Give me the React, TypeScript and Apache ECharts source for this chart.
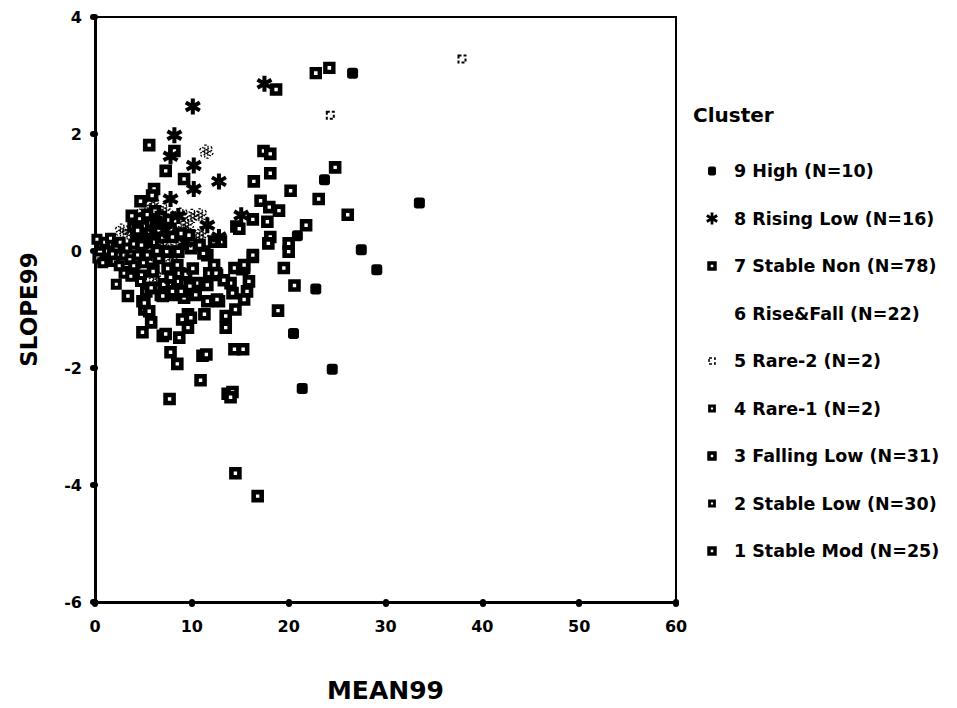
import React, { useEffect, useRef } from "react";
import * as echarts from "echarts";

// ---- data (MEAN99, SLOPE99) ----
const high = [[26.6,3.04],[33.5,0.82],[27.5,0.02],[29.1,-0.32],[23.7,1.22],[20.9,0.26],[22.8,-0.65],[20.5,-1.41],[21.4,-2.35],[24.5,-2.02]];
const risingLow = [[10.1,2.47],[8.2,1.98],[17.5,2.86],[7.8,1.62],[10.2,1.46],[12.8,1.19],[10.2,1.06],[7.8,0.89],[11.6,0.44],[15.1,0.61],[12.8,0.24],[8.6,0.6],[7.2,0.35],[6.5,0.5],[5.8,0.25],[9.3,0.15]];
const stableNon = [[5.6,1.81],[8.2,1.71],[7.3,1.37],[9.2,1.23],[6.1,1.06],[4.7,0.85],[7.5,0.53],[7.8,0.38],[7.0,0.24],[8.0,0.24],[8.9,0.3],[9.7,0.27],[7.4,-0.01],[8.6,-0.01],[9.9,0.05],[11.3,-0.01],[11.6,-0.07],[12.3,-0.24],[12.6,-0.41],[11.6,-0.58],[14.4,-0.29],[14.0,-0.55],[14.2,-0.72],[12.8,-0.86],[11.6,-0.86],[6.8,-0.75],[8.2,-0.75],[9.2,-0.8],[10.4,-0.75],[4.9,-0.86],[9.6,-1.08],[12.3,0.16],[13.0,0.16],[8.5,-0.52],[8.7,-0.38],[8.5,-0.24],[8.9,-0.69],[5.3,-0.69],[6.5,-0.63],[7.0,-0.77],[8.0,-0.69],[11.8,-0.38],[11.2,-0.04],[12.5,-0.38],[16.3,-0.1],[5.8,-0.63],[7.1,-0.57],[5.1,-1.0],[4.6,0.55],[5.0,0.42],[5.4,0.62],[5.8,0.48],[6.2,0.68],[6.6,0.35],[5.2,0.2],[6.0,0.15],[6.8,0.58],[5.6,0.3],[4.4,0.35],[6.3,0.5],[6.6,-0.12],[7.5,-0.3],[14.6,0.42],[14.9,0.38],[15.4,-0.29],[15.2,-0.31],[6.0,-0.35],[7.8,-0.45],[9.4,-0.4],[10.1,-0.3],[10.5,-0.55],[9.8,-0.6],[6.4,0.0],[4.8,0.1],[3.8,0.6],[5.9,0.95],[10.8,0.1],[13.3,-0.5]];
const riseFall = [[11.5,1.7],[10.1,0.6],[10.9,0.61],[8.9,0.62],[6.0,0.8],[7.2,0.7],[5.0,0.65],[9.5,0.45],[4.5,0.2],[3.5,0.3],[6.9,0.1],[8.2,0.05],[5.5,-0.1],[7.9,-0.15],[9.0,0.35],[10.6,0.2],[6.2,-0.45],[4.2,-0.3],[2.8,0.35],[11.0,0.3],[6.4,0.3],[5.1,0.05]];
const rare2 = [[24.3,2.32],[37.9,3.28]];
const rare1 = [[22.8,3.04],[24.2,3.13]];
const fallingLow = [[3.4,-0.77],[5.1,-0.89],[4.9,-1.39],[7.0,-1.45],[7.3,-1.42],[8.7,-1.48],[7.8,-1.73],[8.5,-1.93],[11.1,-1.79],[11.5,-1.77],[10.9,-2.21],[7.7,-2.53],[9.0,-1.17],[9.9,-1.14],[9.6,-1.31],[5.8,-1.22],[5.6,-1.03],[11.3,-1.08],[13.5,-1.11],[13.5,-1.31],[14.4,-1.68],[15.3,-1.68],[13.7,-2.44],[14.2,-2.41],[14.0,-2.5],[14.5,-3.8],[16.8,-4.19],[18.9,-1.02],[14.5,-1.0],[15.4,-0.83],[12.6,-0.83]];
const stableLow = [[0.6,0.1],[1.3,0.0],[2.0,-0.18],[3.0,-0.07],[4.4,-0.07],[5.4,-0.07],[3.4,-0.35],[4.8,-0.41],[1.1,-0.18],[0.3,-0.12],[0.2,0.2],[1.0,0.15],[2.2,0.05],[0.8,-0.2],[1.8,-0.05],[2.5,-0.25],[3.6,-0.15],[4.0,-0.25],[5.0,-0.2],[3.0,-0.38],[3.7,-0.43],[2.6,0.15],[3.3,0.05],[4.0,0.12],[1.6,0.22],[3.9,0.42],[4.2,0.3],[2.2,-0.57],[4.7,-0.52],[6.1,-0.29]];
const stableMod = [[18.7,2.76],[17.4,1.71],[18.1,1.66],[16.4,1.19],[18.1,1.33],[20.2,1.03],[23.1,0.89],[17.1,0.86],[18.0,0.75],[19.0,0.69],[16.3,0.54],[17.8,0.5],[21.8,0.44],[26.1,0.62],[24.8,1.43],[18.1,0.24],[17.9,0.13],[20.0,0.13],[20.0,-0.01],[16.3,-0.07],[19.5,-0.29],[20.6,-0.59],[15.9,-0.52],[15.7,-0.69],[15.4,-0.24]];

const xTicks = { min: 0, max: 60, interval: 10 };
const yTicks = { min: -6, max: 4, interval: 2 };
const legendTitle = "Cluster";
const clusterLabels = [
  "9 High (N=10)",
  "8 Rising Low (N=16)",
  "7 Stable Non (N=78)",
  "6 Rise&Fall (N=22)",
  "5 Rare-2 (N=2)",
  "4 Rare-1 (N=2)",
  "3 Falling Low (N=31)",
  "2 Stable Low (N=30)",
  "1 Stable Mod (N=25)",
];

const FONT = '"DejaVu Sans", "Liberation Sans", Arial, sans-serif';
const ASTERISK =
  "path://M-1.25,-5L1.25,-5L1.25,5L-1.25,5Z M3.71,-3.58L4.96,-1.42L-3.71,3.58L-4.96,1.42Z M-4.96,-1.42L-3.71,-3.58L4.96,1.42L3.71,3.58Z";

function hollow(size: number, bw: number) {
  return {
    symbol: "rect",
    symbolSize: size,
    itemStyle: { color: "#fff", borderColor: "#000", borderWidth: bw, opacity: 1 },
  };
}

function legendIcon(kind: string, cx: number, cy: number): any {
  const sq = (inner: number, lw: number) => ({
    type: "rect",
    shape: { x: cx - inner / 2, y: cy - inner / 2, width: inner, height: inner },
    style: { fill: "#fff", stroke: "#000", lineWidth: lw },
  });
  switch (kind) {
    case "high":
      return { type: "rect", shape: { x: cx - 4, y: cy - 4.5, width: 8, height: 9, r: 2 }, style: { fill: "#000" } };
    case "rising":
      return {
        type: "group",
        x: cx,
        y: cy,
        children: [0, Math.PI / 3, -Math.PI / 3].map((r) => ({
          type: "rect",
          rotation: r,
          shape: { x: -1.4, y: -6, width: 2.8, height: 12 },
          style: { fill: "#000" },
        })),
      };
    case "big":
      return sq(6, 3.5);
    case "small":
      return sq(5, 2.8);
    case "dash":
      return {
        type: "rect",
        shape: { x: cx - 3, y: cy - 3, width: 6, height: 6 },
        style: { fill: "#fff", stroke: "#000", lineWidth: 1.5, lineDash: [3, 2] },
      };
    default:
      return null;
  }
}

const iconKinds = ["high", "rising", "big", "none", "dash", "small", "big", "small", "big"];

export default function App() {
  const ref = useRef<HTMLDivElement>(null);
  useEffect(() => {
    if (!ref.current) return;
    const chart = echarts.init(ref.current, null, { renderer: "svg" });

    const graphics: any[] = [
      {
        type: "text",
        style: {
          text: legendTitle,
          x: 693,
          y: 115,
          font: `bold 20px ${FONT}`,
          fill: "#000",
          verticalAlign: "middle",
          textVerticalAlign: "middle",
        },
      },
    ];
    clusterLabels.forEach((lab, i) => {
      const cy = 171 + i * 47.5;
      const ic = legendIcon(iconKinds[i], 712, cy);
      if (ic) graphics.push(ic);
      graphics.push({
        type: "text",
        style: {
          text: lab,
          x: 734,
          y: cy,
          font: `bold 17.5px ${FONT}`,
          fill: "#000",
          verticalAlign: "middle",
          textVerticalAlign: "middle",
        },
      });
    });

    const axisCommon = {
      axisLine: { show: true, onZero: false, lineStyle: { color: "#000", width: 3 } },
      axisTick: { show: true, length: 2, lineStyle: { color: "#000", width: 6, cap: "round" } },
      splitLine: { show: false },
      axisLabel: { color: "#000", fontFamily: FONT, fontWeight: "bold", fontSize: 16 },
      nameTextStyle: { color: "#000", fontFamily: FONT, fontWeight: "bold", fontSize: 23 },
    };

    chart.setOption({
      animation: false,
      backgroundColor: "#fff",
      grid: { left: 95, right: 281, top: 17, bottom: 103, show: true, borderColor: "#000", borderWidth: 2, containLabel: false },
      xAxis: {
        type: "value",
        ...xTicks,
        ...axisCommon,
        axisLabel: { ...axisCommon.axisLabel, margin: 16 },
        name: "MEAN99",
        nameLocation: "middle",
        nameGap: 76,
        nameTextStyle: { ...axisCommon.nameTextStyle, fontSize: 25 },
      },
      yAxis: {
        type: "value",
        ...yTicks,
        ...axisCommon,
        axisLabel: { ...axisCommon.axisLabel, margin: 13 },
        name: "SLOPE99",
        nameLocation: "middle",
        nameGap: 55,
      },
      graphic: graphics,
      series: [
        {
          name: "6 Rise&Fall",
          type: "scatter",
          data: riseFall,
          symbol: ASTERISK,
          symbolSize: 13,
          itemStyle: { color: "rgba(0,0,0,0)", borderColor: "#000", borderWidth: 1.3, borderType: [2, 2], opacity: 1 },
        },
        { name: "2 Stable Low", type: "scatter", data: stableLow, ...hollow(7, 4) },
        { name: "7 Stable Non", type: "scatter", data: stableNon, ...hollow(8, 4.6) },
        { name: "1 Stable Mod", type: "scatter", data: stableMod, ...hollow(8, 4.6) },
        { name: "3 Falling Low", type: "scatter", data: fallingLow, ...hollow(8, 4.6) },
        { name: "4 Rare-1", type: "scatter", data: rare1, ...hollow(8, 4.4) },
        {
          name: "5 Rare-2",
          type: "scatter",
          data: rare2,
          symbol: "rect",
          symbolSize: 7,
          itemStyle: { color: "#fff", borderColor: "#000", borderWidth: 2, borderType: [3, 2], opacity: 1 },
        },
        { name: "8 Rising Low", type: "scatter", data: risingLow, symbol: ASTERISK, symbolSize: 16, itemStyle: { color: "#000", opacity: 1 } },
        { name: "9 High", type: "scatter", data: high, symbol: "roundRect", symbolSize: 11, itemStyle: { color: "#000", opacity: 1 } },
      ],
    });
    return () => chart.dispose();
  }, []);
  return (
    <div
      ref={ref}
      style={{ position: "fixed", left: 0, top: 0, width: 957, height: 708, background: "#fff" }}
    />
  );
}
